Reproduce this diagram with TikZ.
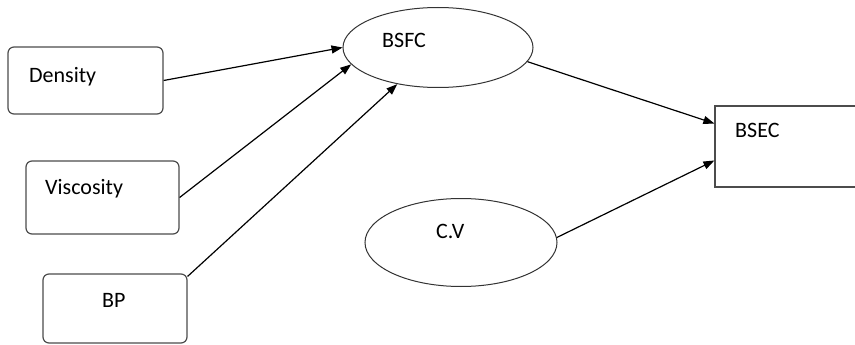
\documentclass[tikz,border=0pt]{standalone}
\usepackage{fontspec}
\setmainfont{Carlito}
\usetikzlibrary{shapes.geometric,arrows.meta}
\begin{document}
\begin{tikzpicture}[x=1pt,y=-1pt,
		inbox/.style={draw=black!70,line width=1.2pt,rounded corners=6pt,inner sep=0pt},
		outbox/.style={draw=black!70,line width=1.2pt,inner sep=0pt,minimum width=160pt,minimum height=81pt},
		oval/.style={ellipse,draw=black!80,line width=1pt,inner sep=0pt},
		txt/.style={anchor=base west,inner sep=0pt,font=\fontsize{22}{26}\selectfont},
		link/.style={line width=1.2pt,-{Triangle[length=11pt,width=8pt]}}]
			\path[use as bounding box,clip] (0,0) rectangle (855,345);
			\node[inbox,minimum width=155pt,minimum height=67pt] (dens) at (85.5,80.5) {};
			\node[inbox,minimum width=153pt,minimum height=73pt] (visc) at (102.5,197.5) {};
			\node[inbox,minimum width=144pt,minimum height=69pt] (bp) at (115,308.5) {};
			\node[oval,minimum width=190pt,minimum height=80pt] (bsfc) at (438,47.5) {};
			\node[oval,minimum width=192pt,minimum height=88pt] (cv) at (461,242.5) {};
			\node[outbox] (bsec) at (795,146.5) {};
			% texts
			\node[txt] (densT) at (29,83) {Density};
			\node[txt] (viscT) at (45,194) {Viscosity};
			\node[txt] (bpT) at (102,307) {BP};
			\node[txt] (bsfcT) at (382,48) {BSFC};
			\node[txt] (cvT) at (436,238) {C.V};
			\node[txt] (bsecT) at (735,137) {BSEC};
			% arrows
			\draw[link] (dens.east) -- (bsfc.west);
			\draw[link] (visc.east) -- (bsfc.191);
			\draw[link] ([yshift=-3pt]bp.north east) -- (bsfc.222);
			\draw[link] (bsfc.351) -- ([yshift=23pt]bsec.west);
			\draw[link] (cv.3) -- ([yshift=-14pt]bsec.west);
	\end{tikzpicture}
\end{document}
